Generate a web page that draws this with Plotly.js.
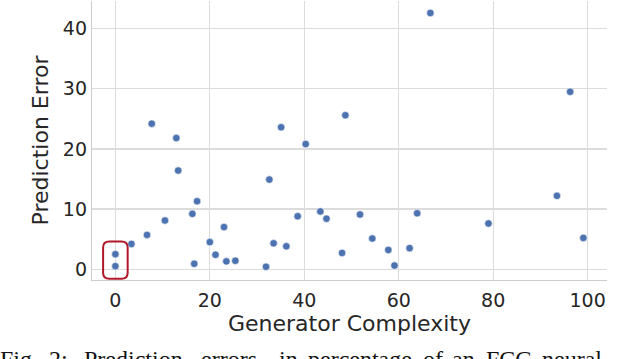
<!DOCTYPE html>
<html>
<head>
<meta charset="utf-8">
<script src="https://cdn.plot.ly/plotly-3.0.1.min.js"></script>
<style>
  html, body { margin: 0; padding: 0; background: #fff; }
  #chart { width: 640px; height: 359px; }
</style>
</head>
<body>
<div id="chart"></div>
<script>
// Generator complexity vs prediction error (%)
const complexity = [
    0, 0, 3.4, 6.7, 7.7, 10.5, 12.9, 13.3, 16.3, 16.7,
    17.3, 20.0, 21.2, 23.0, 23.5, 25.4, 31.9, 32.6, 33.5, 35.1,
    36.2, 38.6, 40.3, 43.4, 44.7, 48.0, 48.7, 51.8, 54.4, 57.8,
    59.1, 62.3, 63.9, 66.7, 79.0, 93.5, 96.3, 99.1
];
const predError = [
    2.5, 0.5, 4.2, 5.7, 24.2, 8.1, 21.8, 16.4, 9.2, 0.9,
    11.3, 4.5, 2.4, 7.0, 1.3, 1.4, 0.4, 14.9, 4.3, 23.6,
    3.8, 8.8, 20.8, 9.6, 8.4, 2.7, 25.6, 9.1, 5.1, 3.2,
    0.6, 3.5, 9.3, 42.6, 7.6, 12.2, 29.5, 5.2
];
const xTicks = [0, 20, 40, 60, 80, 100];
const yTicks = [0, 10, 20, 30, 40];
const captionWords = ['Fig.', '2:', 'Prediction', 'errors', 'in', 'percentage', 'of', 'an', 'FCG', 'neural'];

// highlight box around the points at zero complexity
const zeroErr = predError.filter((v, i) => complexity[i] === 0);
const bx0 = -2.6, bx1 = 2.6;
const by0 = Math.min(...zeroErr) - 2.1, by1 = Math.max(...zeroErr) + 2.1;
const rx = 1.3, ry = 1.0;
const boxPath = `M ${bx0 + rx},${by0} L ${bx1 - rx},${by0} Q ${bx1},${by0} ${bx1},${by0 + ry} ` +
    `L ${bx1},${by1 - ry} Q ${bx1},${by1} ${bx1 - rx},${by1} L ${bx0 + rx},${by1} ` +
    `Q ${bx0},${by1} ${bx0},${by1 - ry} L ${bx0},${by0 + ry} Q ${bx0},${by0} ${bx0 + rx},${by0} Z`;

const trace = {
    x: complexity,
    y: predError,
    type: 'scatter',
    mode: 'markers',
    marker: { size: 7.5, color: '#4c72b0', line: { color: '#ffffff', width: 0.6 } },
    hovertemplate: 'Complexity: %{x}<br>Error: %{y}<extra></extra>'
};

// caption words, spread as in the justified line of the paper (left edge in px)
const captionX = [-2, 47, 82, 199, 277, 306, 421, 450, 484, 540];
const captionAnn = captionWords.map((w, i) => ({
    text: w,
    xref: 'paper', yref: 'paper',
    x: (captionX[i] - 92) / 515, y: -0.228,
    xanchor: 'left', yanchor: 'top',
    showarrow: false,
    font: { family: 'Liberation Serif, Times New Roman, serif', size: 24, color: '#111' }
}));

const axisFont = { family: 'DejaVu Sans, sans-serif', size: 19, color: '#262626' };
const titleFont = { family: 'DejaVu Sans, sans-serif', size: 22, color: '#262626' };

const layout = {
    width: 640,
    height: 359,
    margin: { l: 92, r: 33, t: 1, b: 79 },
    paper_bgcolor: '#ffffff',
    plot_bgcolor: '#ffffff',
    showlegend: false,
    xaxis: {
        range: [-4.95, 104.1],
        tickvals: xTicks,
        tickfont: axisFont,
        ticklabelstandoff: 3,
        title: { text: 'Generator Complexity', font: titleFont, standoff: 4 },
        showgrid: true, gridcolor: '#dcdcdc', gridwidth: 1.2,
        zeroline: false,
        showline: true, linecolor: '#cccccc', linewidth: 1.2,
        ticks: ''
    },
    yaxis: {
        range: [-1.8, 44.6],
        tickvals: yTicks,
        tickfont: axisFont,
        title: { text: 'Prediction Error', font: titleFont, standoff: 8 },
        showgrid: true, gridcolor: '#dcdcdc', gridwidth: 1.2,
        zeroline: false,
        showline: true, linecolor: '#cccccc', linewidth: 1.2,
        ticks: ''
    },
    shapes: [{
        type: 'path',
        xref: 'x', yref: 'y',
        path: boxPath,
        line: { color: '#b0182a', width: 2 },
        fillcolor: 'rgba(0,0,0,0)'
    }],
    annotations: captionAnn
};

Plotly.newPlot('chart', [trace], layout, { displayModeBar: false, staticPlot: true });
</script>
</body>
</html>
